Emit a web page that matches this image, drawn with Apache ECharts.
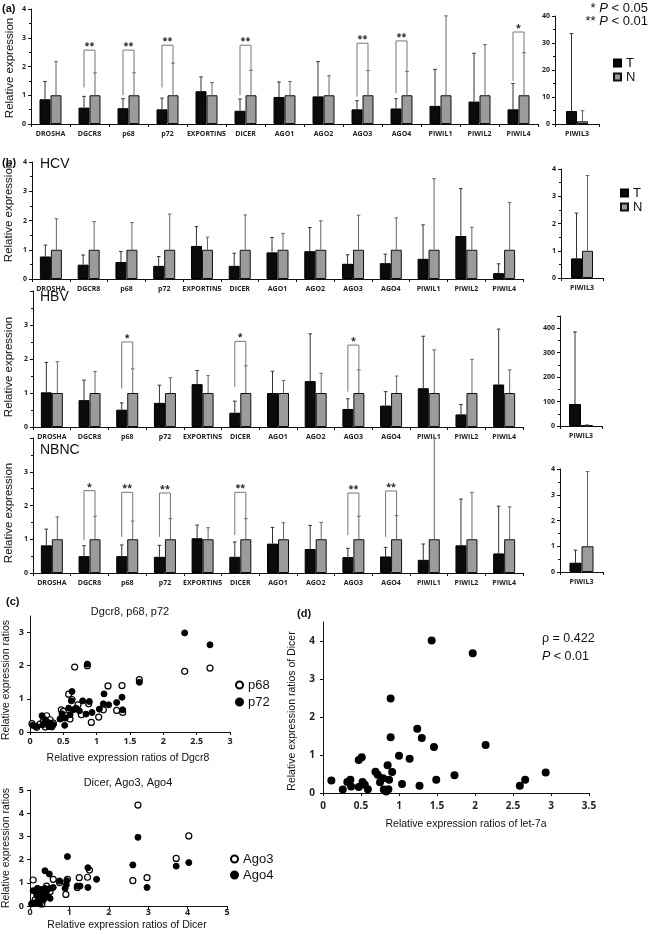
<!DOCTYPE html>
<html><head><meta charset="utf-8">
<script src="https://cdn.jsdelivr.net/npm/echarts@6/dist/echarts.min.js"></script>
<style>html,body{margin:0;padding:0;background:#fff}#c{width:649px;height:935px}</style>
</head><body><div id="c"></div>
<script>
// ---------- DATA ----------
const genes = ['DROSHA','DGCR8','p68','p72','EXPORTIN5','DICER','AGO1','AGO2','AGO3','AGO4','PIWIL1','PIWIL2','PIWIL4'];
const piwil3Cat = ['PIWIL3'];
const nOnes = [1,1,1,1,1,1,1,1,1,1,1,1,1];

// (a) all cases
const allT    = [0.86,0.57,0.55,0.51,1.14,0.46,0.94,0.96,0.51,0.54,0.63,0.78,0.51];
const allTerr = [1.48,0.96,0.88,0.90,1.64,0.87,1.46,2.17,0.81,0.88,1.90,2.46,1.41];
const allNerr = [2.17,1.78,1.78,2.12,1.44,1.87,1.48,1.68,1.86,1.83,3.76,2.76,2.48];
const allP3    = [4.8, 1.0];
const allP3err = [33.5, 4.9];
const allBr = [[1,1.27,2.57,1.78,'**'],[2,1.0,2.57,1.78,'**'],[3,1.27,2.74,2.12,'**'],[5,1.0,2.74,1.87,'**'],[8,0.95,2.81,1.86,'**'],[9,1.07,2.89,1.83,'**'],[12,1.5,3.2,2.48,'*']];

// (b) HCV
const hcvT    = [0.77,0.49,0.58,0.45,1.13,0.45,0.91,0.95,0.52,0.54,0.69,1.47,0.20];
const hcvTerr = [1.16,0.82,0.94,0.77,1.79,0.88,1.42,1.76,0.83,0.85,1.85,3.09,0.52];
const hcvNerr = [2.06,1.96,1.93,2.22,1.43,2.19,1.56,1.99,2.18,2.09,3.43,1.77,2.62];
const hcvP3    = [0.72, 1.0];
const hcvP3err = [2.38, 3.76];

// HBV
const hbvT    = [1.02,0.79,0.51,0.71,1.26,0.42,1.00,1.35,0.53,0.63,1.14,0.37,1.25];
const hbvTerr = [1.90,1.38,0.71,1.23,1.66,0.76,1.64,2.74,0.83,1.04,2.67,0.66,2.88];
const hbvNerr = [1.92,1.63,1.71,1.45,1.51,1.80,1.37,1.58,1.68,1.50,2.27,1.99,1.68];
const hbvP3    = [90, 3];
const hbvP3err = [385, 5];
const hbvBr = [[2,1.13,2.50,1.71,'*'],[5,1.18,2.52,1.80,'*'],[8,1.04,2.41,1.68,'*']];

// NBNC
const nbncT    = [0.82,0.50,0.50,0.48,1.03,0.48,0.87,0.71,0.47,0.49,0.39,0.82,0.58];
const nbncTerr = [1.30,0.81,0.83,0.82,1.42,0.92,1.35,1.41,0.73,0.76,0.86,2.19,1.98];
const nbncNerr = [1.66,1.68,1.54,1.61,1.34,1.61,1.49,1.50,1.68,1.70,4.00,2.39,1.96];
const nbncP3    = [0.36, 1.0];
const nbncP3err = [0.85, 3.9];
const nbncBr = [[1,0.97,2.44,1.68,'*'],[2,1.07,2.39,1.54,'**'],[3,1.07,2.37,1.61,'**'],[5,1.12,2.39,1.61,'**'],[8,1.12,2.37,1.68,'**'],[9,1.07,2.43,1.70,'**']];

// (c) scatter: x = Dgcr8 ratio
const p68Pts = [[2.32,1.83],[2.70,1.93],[0.67,1.96],[0.86,2.00],[1.64,1.58],[1.17,1.39],[1.38,1.40],[0.58,1.14],[0.63,0.98],[0.72,0.82],[0.88,0.85],[1.10,0.67],[1.30,0.65],[1.39,0.59],[1.03,0.45],[0.92,0.29],[0.47,0.67],[0.50,0.62],[0.55,0.49],[0.77,0.52],[0.60,0.39],[0.47,0.42],[0.25,0.49],[0.20,0.32],[0.30,0.37],[0.15,0.24],[0.03,0.25],[0.10,0.14],[0.30,0.17],[0.23,0.15],[0.35,0.27]];
const p72Pts = [[2.32,2.99],[2.70,2.63],[0.86,2.05],[0.63,1.22],[1.64,1.50],[1.11,1.15],[1.38,1.05],[1.18,0.82],[1.30,0.89],[1.10,0.85],[1.04,0.69],[1.39,0.67],[0.79,0.94],[0.89,0.92],[0.62,0.94],[0.58,0.72],[0.65,0.67],[0.69,0.72],[0.74,0.64],[0.84,0.54],[0.93,0.59],[0.60,0.52],[0.53,0.42],[0.48,0.55],[0.45,0.39],[0.52,0.20],[0.18,0.49],[0.23,0.37],[0.30,0.27],[0.28,0.17],[0.33,0.15],[0.09,0.17],[0.04,0.20],[0.25,0.32],[0.19,0.22],[0.35,0.22]];
// x = Dicer ratio
const ago3Pts = [[2.74,4.35],[4.03,3.02],[3.71,2.05],[2.97,1.22],[2.61,1.09],[1.51,1.55],[1.46,1.24],[1.25,1.22],[1.20,0.80],[0.95,1.15],[0.91,0.50],[0.75,1.01],[0.59,1.15],[0.08,1.12],[0.42,0.86],[0.30,0.69],[0.19,0.47],[0.13,0.26],[0.30,0.09],[0.42,0.40],[0.51,0.62],[0.07,0.11],[0.21,0.19]];
const ago4Pts = [[2.74,2.96],[4.03,1.87],[3.71,1.72],[2.61,1.77],[2.97,0.80],[1.69,1.15],[1.47,1.65],[1.47,0.80],[1.27,0.86],[1.20,0.86],[0.95,2.13],[0.93,1.09],[0.92,0.91],[0.89,0.76],[0.75,1.08],[0.38,1.52],[0.49,1.38],[0.59,0.80],[0.51,0.76],[0.42,0.66],[0.34,0.57],[0.25,0.72],[0.08,0.66],[0.17,0.47],[0.30,0.37],[0.21,0.26],[0.13,0.14],[0.04,0.09],[0.42,0.47],[0.34,0.26],[0.25,0.09],[0.51,0.33],[0.38,0.76],[0.19,0.76]];
// (d) let-7a vs Dicer
const let7aPts = [[1.43,4.01],[1.97,3.68],[0.89,2.49],[1.24,1.69],[0.89,1.47],[1.30,1.45],[1.46,1.21],[2.14,1.26],[1.00,0.98],[1.14,0.90],[0.51,0.94],[0.47,0.87],[0.85,0.73],[0.69,0.56],[0.72,0.48],[0.79,0.39],[0.91,0.55],[0.87,0.35],[0.75,0.28],[0.80,0.09],[0.83,0.04],[0.86,0.10],[1.04,0.24],[1.27,0.19],[1.49,0.35],[1.73,0.47],[2.59,0.19],[2.66,0.35],[2.93,0.54],[0.11,0.33],[0.26,0.09],[0.32,0.29],[0.36,0.35],[0.37,0.17],[0.47,0.16],[0.52,0.29],[0.55,0.22],[0.59,0.10]];
const cTopYTicks = [0,1,2,3];
const dYTicks = [0,1,2,3,4];

// ---------- BUILD ----------
const FONT_B = 'Open Sans';
const FONT_T = 'Liberation Sans';
const grids=[], xs=[], ys=[], series=[];
const axLine = {show:true, lineStyle:{color:'#111', width:1}};

function errRender(sign, color, bw){
  return function(params, api){
    const i = api.value(0), v = api.value(1), e = api.value(2);
    const p0 = api.coord([i, v]), p1 = api.coord([i, e]);
    const x = p0[0] + sign*bw/2;
    return {type:'group', children:[
      {type:'line', shape:{x1:x,y1:p0[1],x2:x,y2:p1[1]}, style:{stroke:color,lineWidth:1}},
      {type:'line', shape:{x1:x-1.8,y1:p1[1],x2:x+1.8,y2:p1[1]}, style:{stroke:color,lineWidth:1}}
    ]};
  };
}
function brRender(arr, bw){
  return function(params, api){
    const i = api.value(0);
    const c = api.coord([i, api.value(2)]);
    const yl = api.coord([i, api.value(1)])[1], yr = api.coord([i, api.value(3)])[1];
    const xl = c[0]-bw/2, xr = c[0]+bw/2;
    return {type:'group', children:[
      {type:'polyline', shape:{points:[[xl,yl],[xl,c[1]],[xr,c[1]],[xr,yr]]}, style:{stroke:'#777',lineWidth:1,fill:null}},
      {type:'text', x:c[0], y:c[1]+1, style:{text:arr[params.dataIndex][4], align:'center', verticalAlign:'bottom', fontSize:9, fontWeight:'bold', fontFamily:FONT_B, fill:'#222'}}
    ]};
  };
}

function addBarGrid(g, cats, T, Terr, N, Nerr, br, bw){
  grids.push({left:g.left, top:g.top, width:g.width, height:g.height, containLabel:false, outerBoundsMode:'none'});
  const gi = grids.length-1;
  xs.push({type:'category', gridIndex:gi, data:cats, axisLine:axLine,
    axisTick:{show:true, length:3, lineStyle:{color:'#111'}},
    axisLabel:{fontSize:7, fontWeight:'bold', fontFamily:FONT_B, color:'#222', interval:0, margin:6},
    splitLine:{show:false}});
  ys.push({type:'value', gridIndex:gi, min:0, max:g.max, interval:g.interval, axisLine:axLine,
    axisTick:{show:true, length:3, lineStyle:{color:'#111'}},
    minorTick:{show:true, splitNumber:2, length:2, lineStyle:{color:'#111'}},
    splitLine:{show:false},
    axisLabel:{fontSize:7, fontWeight:'bold', fontFamily:FONT_B, color:'#222', margin:5,
      formatter: v => (g.hideMax && v >= g.max - 1e-9) ? '' : String(v)}});
  const xi = xs.length-1, yi = ys.length-1;
  series.push({type:'bar', name:'T', xAxisIndex:xi, yAxisIndex:yi, data:T, barWidth:bw, barGap:'0%',
    itemStyle:{color:'#0b0b0b', borderColor:'#000', borderWidth:1}, silent:true, z:2});
  series.push({type:'bar', name:'N', xAxisIndex:xi, yAxisIndex:yi, data:N, barWidth:bw, barGap:'0%',
    itemStyle:{color:'#9b9b9b', borderColor:'#111', borderWidth:1}, silent:true, z:2});
  series.push({type:'custom', xAxisIndex:xi, yAxisIndex:yi, clip:false, silent:true, z:3,
    encode:{x:0, y:[1,2]}, data:T.map((v,i)=>[i,v,Terr[i]]), renderItem:errRender(-1,'#333',bw)});
  series.push({type:'custom', xAxisIndex:xi, yAxisIndex:yi, clip:false, silent:true, z:3,
    encode:{x:0, y:[1,2]}, data:N.map((v,i)=>[i,v,Nerr[i]]), renderItem:errRender(1,'#666',bw)});
  if(br){
    series.push({type:'custom', xAxisIndex:xi, yAxisIndex:yi, clip:false, silent:true, z:3,
      encode:{x:0, y:[1,2,3]}, data:br.map(b=>[b[0],b[1],b[2],b[3]]), renderItem:brRender(br,bw)});
  }
}

function addScatterGrid(g, xc, yc){
  grids.push({left:g.left, top:g.top, width:g.width, height:g.height, containLabel:false, outerBoundsMode:'none'});
  const gi = grids.length-1;
  xs.push({type:'value', gridIndex:gi, min:xc.min, max:xc.max, interval:xc.interval, axisLine:axLine,
    axisTick:{show:true, length:3, lineStyle:{color:'#111'}}, splitLine:{show:false},
    axisLabel:{fontSize:xc.fs, fontWeight:'bold', fontFamily:FONT_B, color:'#222', margin:xc.margin}});
  const yAx = {type:'value', gridIndex:gi, min:yc.min, max:yc.max, interval:yc.interval, axisLine:axLine,
    axisTick:{show:true, length:3, lineStyle:{color:'#111'}}, splitLine:{show:false},
    axisLabel:{fontSize:yc.fs, fontWeight:'bold', fontFamily:FONT_B, color:'#222', margin:yc.margin,
      hideOverlap:false, showMaxLabel:true, showMinLabel:true}};
  if(yc.ticks){
    yAx.axisLabel.customValues = yc.ticks;
    yAx.axisTick.customValues = yc.ticks;
  }
  ys.push(yAx);
  return [xs.length-1, ys.length-1];
}

// bar panels
addBarGrid({left:31,top:9,width:507,height:115,max:4,interval:1}, genes, allT, allTerr, nOnes, allNerr, allBr, 11);
addBarGrid({left:555,top:16,width:44,height:108,max:40,interval:10}, piwil3Cat, [allP3[0]], [allP3err[0]], [allP3[1]], [allP3err[1]], null, 11);
addBarGrid({left:32,top:162,width:491,height:117,max:4,interval:1}, genes, hcvT, hcvTerr, nOnes, hcvNerr, null, 11);
addBarGrid({left:561,top:169,width:42,height:109,max:4,interval:1}, piwil3Cat, [hcvP3[0]], [hcvP3err[0]], [hcvP3[1]], [hcvP3err[1]], null, 11);
addBarGrid({left:33,top:291,width:490,height:136,max:4,interval:1,hideMax:true}, genes, hbvT, hbvTerr, nOnes, hbvNerr, hbvBr, 11);
addBarGrid({left:560,top:316,width:42,height:110,max:450,interval:100,hideMax:true}, piwil3Cat, [hbvP3[0]], [hbvP3err[0]], [hbvP3[1]], [hbvP3err[1]], null, 12);
addBarGrid({left:33,top:438,width:490,height:135,max:4,interval:1,hideMax:true}, genes, nbncT, nbncTerr, nOnes, nbncNerr, nbncBr, 11);
addBarGrid({left:560,top:469,width:43,height:103,max:4,interval:1}, piwil3Cat, [nbncP3[0]], [nbncP3err[0]], [nbncP3[1]], [nbncP3err[1]], null, 12);

// scatter panels
const openSt = {color:'#fff', borderColor:'#000', borderWidth:1.2, opacity:1};
const fillSt = {color:'#000', borderColor:'#000', borderWidth:1, opacity:1};
let ax = addScatterGrid({left:30,top:616,width:200,height:116}, {min:0,max:3,interval:0.5,fs:9,margin:5}, {min:0,max:3.5,interval:0.5,ticks:cTopYTicks,fs:9,margin:6});
series.push({type:'scatter', name:'p68', xAxisIndex:ax[0], yAxisIndex:ax[1], data:p68Pts, symbolSize:6, itemStyle:openSt, silent:true});
series.push({type:'scatter', name:'p72', xAxisIndex:ax[0], yAxisIndex:ax[1], data:p72Pts, symbolSize:6, itemStyle:fillSt, silent:true});
ax = addScatterGrid({left:30,top:790,width:197,height:116}, {min:0,max:5,interval:1,fs:9,margin:2}, {min:0,max:5,interval:1,fs:9,margin:6});
series.push({type:'scatter', name:'Ago3', xAxisIndex:ax[0], yAxisIndex:ax[1], data:ago3Pts, symbolSize:6, itemStyle:openSt, silent:true});
series.push({type:'scatter', name:'Ago4', xAxisIndex:ax[0], yAxisIndex:ax[1], data:ago4Pts, symbolSize:6, itemStyle:fillSt, silent:true});
ax = addScatterGrid({left:323,top:622,width:266,height:171}, {min:0,max:3.5,interval:0.5,fs:10,margin:8}, {min:0,max:4.5,interval:0.5,ticks:dYTicks,fs:10,margin:8});
series.push({type:'scatter', name:'let7a', xAxisIndex:ax[0], yAxisIndex:ax[1], data:let7aPts, symbolSize:8, itemStyle:{color:'#000', opacity:1}, silent:true});

// ---------- TEXT ----------
function txt(t, x, y, o){
  o = o || {};
  const el = {type:'text', x:x, y:y, silent:true, style:{text:t, fill:'#111',
    fontSize:o.fs||11, fontWeight:o.fw||'normal', fontFamily:o.ff||FONT_T,
    align:o.align||'left', verticalAlign:'middle', textAlign:o.align||'left', textVerticalAlign:'middle'}};
  if(o.rot) el.rotation = o.rot;
  if(o.rich) el.style.rich = o.rich;
  return el;
}
const R = Math.PI/2;
const italP = {i:{fontStyle:'italic', fontSize:13, fontFamily:FONT_T, fill:'#111'}};
const italP12 = {i:{fontStyle:'italic', fontSize:12.5, fontFamily:FONT_T, fill:'#111'}};
const graphics = [
  txt('(a)', 2, 9, {fw:'bold', fs:11}),
  txt('* {i|P} < 0.05', 648, 8, {align:'right', fs:13, rich:italP}),
  txt('** {i|P} < 0.01', 648, 21, {align:'right', fs:13, rich:italP}),
  txt('Relative expression', 10, 68, {rot:R, align:'center', fs:11.5}),
  txt('(b)', 2, 163, {fw:'bold', fs:11}),
  txt('HCV', 40, 164, {fs:14}),
  txt('Relative expression', 9, 212, {rot:R, align:'center', fs:11.5}),
  txt('HBV', 40, 297, {fs:14}),
  txt('Relative expression', 9, 367, {rot:R, align:'center', fs:11.5}),
  txt('NBNC', 40, 450, {fs:14}),
  txt('Relative expression', 9, 513, {rot:R, align:'center', fs:11.5}),
  txt('(c)', 6, 602, {fw:'bold', fs:11}),
  txt('Dgcr8, p68, p72', 130, 612, {align:'center', fs:11}),
  txt('Relative expression ratios of Dgcr8', 128, 758, {align:'center', fs:10.5}),
  txt('Relative expression ratios', 6, 680, {rot:R, align:'center', fs:10.5}),
  txt('Dicer, Ago3, Ago4', 128, 783, {align:'center', fs:11}),
  txt('Relative expression ratios of Dicer', 127, 925, {align:'center', fs:10.5}),
  txt('Relative expression ratios', 6, 848, {rot:R, align:'center', fs:10.5}),
  txt('(d)', 297, 614, {fw:'bold', fs:11}),
  txt('\u03c1 = 0.422', 542, 639, {fs:12.5}),
  txt('{i|P} < 0.01', 542, 657, {fs:12.5, rich:italP12}),
  txt('Relative expression ratios of let-7a', 466, 824, {align:'center', fs:10.5}),
  txt('Relative expression ratios of Dicer', 292, 711, {rot:R, align:'center', fs:10.5})
];

const legText = {fontSize:13, fontFamily:FONT_T, color:'#111', lineHeight:14};
const option = {
  animation:false,
  backgroundColor:'#fff',
  grid:grids, xAxis:xs, yAxis:ys, series:series,
  legend:[
    {data:['T','N'], left:613, top:56, orient:'vertical', icon:'rect', itemWidth:7, itemHeight:7, itemGap:0, padding:0, selectedMode:false, textStyle:legText},
    {data:['T','N'], left:620, top:186, orient:'vertical', icon:'rect', itemWidth:7, itemHeight:7, itemGap:0, padding:0, selectedMode:false, textStyle:legText},
    {data:['p68','p72'], left:235, top:678, orient:'vertical', icon:'circle', itemWidth:7, itemHeight:7, itemGap:3, padding:0, selectedMode:false, textStyle:legText},
    {data:['Ago3','Ago4'], left:230, top:852, orient:'vertical', icon:'circle', itemWidth:7, itemHeight:7, itemGap:2, padding:0, selectedMode:false, textStyle:legText}
  ],
  graphic:graphics
};
const chart = echarts.init(document.getElementById('c'), null, {renderer:'canvas'});
chart.setOption(option);
</script>
</body></html>
